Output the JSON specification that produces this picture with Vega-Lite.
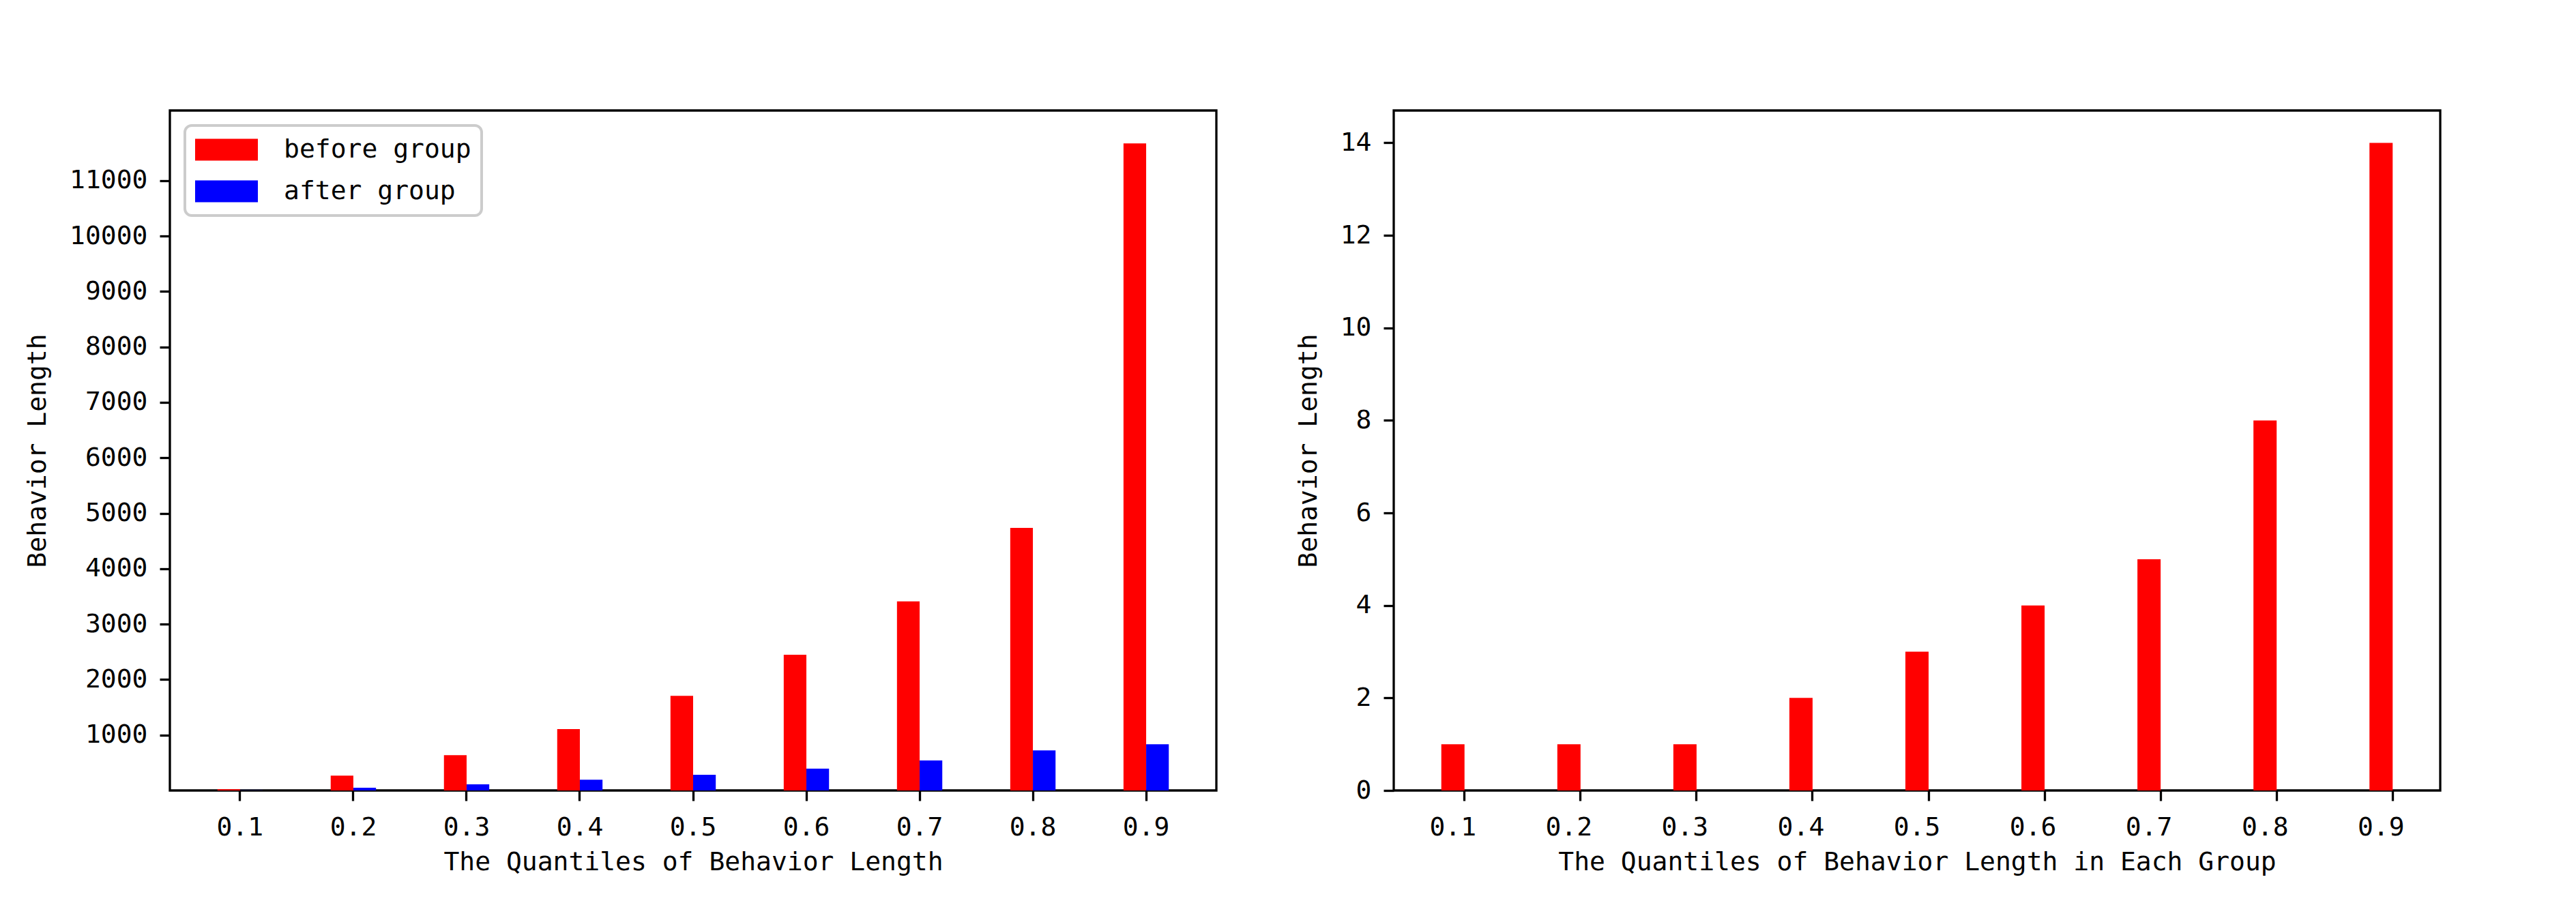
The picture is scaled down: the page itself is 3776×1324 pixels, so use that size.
{
  "$schema": "https://vega.github.io/schema/vega-lite/v6.json",
  "background": "white",
  "autosize": {"type": "pad"},
  "padding": {"left": 34, "top": 160, "right": 0, "bottom": 0},
  "bounds": "flush",
  "spacing": 260,
  "config": {
    "view": {"stroke": "black", "strokeWidth": 3.3},
    "axis": {
      "labelFont": "DejaVu Sans Mono",
      "titleFont": "DejaVu Sans Mono",
      "labelFontSize": 38,
      "titleFontSize": 38,
      "titleFontWeight": "normal",
      "labelColor": "black",
      "titleColor": "black",
      "tickColor": "black",
      "tickWidth": 3.3,
      "tickSize": 15,
      "domain": false,
      "grid": false
    },
    "axisX": {"labelPadding": 20, "titlePadding": 13},
    "axisY": {"labelPadding": 18, "titlePadding": 27},
    "legend": {"strokeWidth": 4}
  },
  "hconcat": [
    {
      "width": 1534,
      "height": 997,
      "data": {
        "values": [
          {"quantile": "0.1", "series": "before group", "length": 20},
          {"quantile": "0.1", "series": "after group", "length": 3},
          {"quantile": "0.2", "series": "before group", "length": 267},
          {"quantile": "0.2", "series": "after group", "length": 49},
          {"quantile": "0.3", "series": "before group", "length": 636},
          {"quantile": "0.3", "series": "after group", "length": 111},
          {"quantile": "0.4", "series": "before group", "length": 1108},
          {"quantile": "0.4", "series": "after group", "length": 193},
          {"quantile": "0.5", "series": "before group", "length": 1708},
          {"quantile": "0.5", "series": "after group", "length": 283},
          {"quantile": "0.6", "series": "before group", "length": 2449},
          {"quantile": "0.6", "series": "after group", "length": 394},
          {"quantile": "0.7", "series": "before group", "length": 3411},
          {"quantile": "0.7", "series": "after group", "length": 542},
          {"quantile": "0.8", "series": "before group", "length": 4737},
          {"quantile": "0.8", "series": "after group", "length": 722},
          {"quantile": "0.9", "series": "before group", "length": 11672},
          {"quantile": "0.9", "series": "after group", "length": 833}
        ]
      },
      "mark": {"type": "bar"},
      "encoding": {
        "x": {
          "field": "quantile",
          "type": "nominal",
          "sort": null,
          "scale": {"paddingInner": 0.6, "paddingOuter": 0.42},
          "axis": {"labelAngle": 0, "title": "The Quantiles of Behavior Length"}
        },
        "xOffset": {
          "field": "series",
          "type": "nominal",
          "scale": {"domain": ["before group", "after group"], "paddingInner": 0, "paddingOuter": 0}
        },
        "y": {
          "field": "length",
          "type": "quantitative",
          "scale": {"domain": [0, 12264], "nice": false},
          "axis": {
            "title": "Behavior Length",
            "format": "d",
            "values": [1000, 2000, 3000, 4000, 5000, 6000, 7000, 8000, 9000, 10000, 11000]
          }
        },
        "color": {
          "field": "series",
          "type": "nominal",
          "scale": {"domain": ["before group", "after group"], "range": ["#ff0000", "#0000ff"]},
          "legend": {
            "title": null,
            "orient": "top-left",
            "offset": 22,
            "padding": 15,
            "strokeColor": "#cccccc",
            "fillColor": "white",
            "cornerRadius": 10,
            "symbolType": "M-1,-0.348L1,-0.348L1,0.348L-1,0.348Z",
            "symbolSize": 8464,
            "symbolStrokeWidth": 0,
            "symbolOpacity": 1,
            "labelFont": "DejaVu Sans Mono",
            "labelFontSize": 38,
            "labelColor": "black",
            "labelLimit": 0,
            "labelOffset": 38,
            "rowPadding": 20,
            "clipHeight": 41
          }
        }
      }
    },
    {
      "width": 1534,
      "height": 997,
      "data": {
        "values": [
          {"quantile": "0.1", "length": 1},
          {"quantile": "0.2", "length": 1},
          {"quantile": "0.3", "length": 1},
          {"quantile": "0.4", "length": 2},
          {"quantile": "0.5", "length": 3},
          {"quantile": "0.6", "length": 4},
          {"quantile": "0.7", "length": 5},
          {"quantile": "0.8", "length": 8},
          {"quantile": "0.9", "length": 14}
        ]
      },
      "mark": {"type": "bar", "color": "#ff0000"},
      "encoding": {
        "x": {
          "field": "quantile",
          "type": "nominal",
          "sort": null,
          "scale": {"paddingInner": 0.8, "paddingOuter": 0.41},
          "axis": {"labelAngle": 0, "bandPosition": 1, "title": "The Quantiles of Behavior Length in Each Group"}
        },
        "y": {
          "field": "length",
          "type": "quantitative",
          "scale": {"domain": [0, 14.7], "nice": false},
          "axis": {"title": "Behavior Length", "values": [0, 2, 4, 6, 8, 10, 12, 14]}
        }
      }
    }
  ]
}
